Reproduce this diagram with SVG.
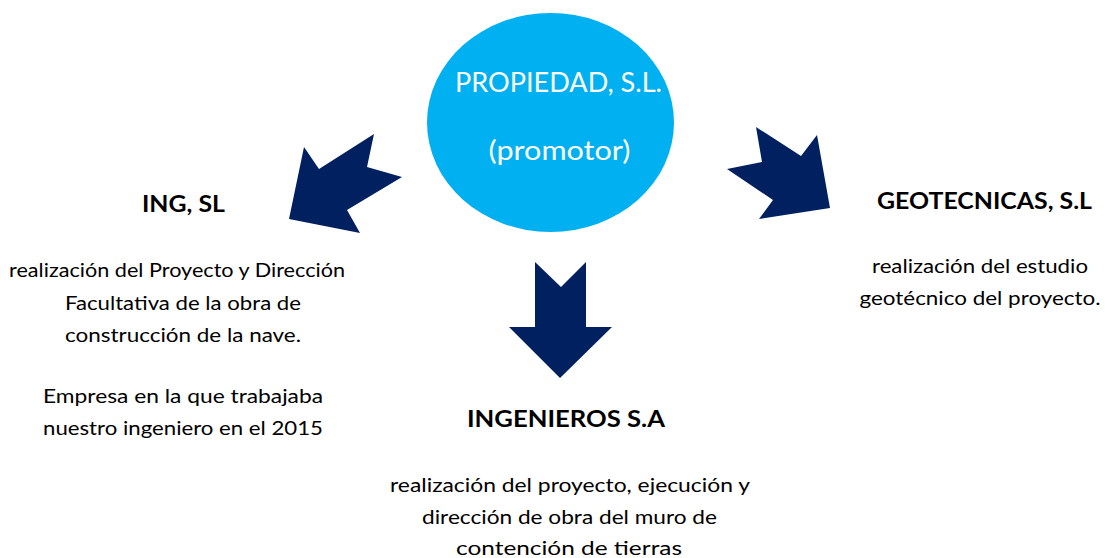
<svg xmlns="http://www.w3.org/2000/svg" width="1105" height="558" viewBox="0 0 1105 558">
<style>
.arrow{fill:#002060;stroke:none}
.h{font-family:Lato,"Open Sans","Liberation Sans",sans-serif;font-weight:bold;font-size:23px;fill:#000;text-anchor:middle}
.b{font-family:Lato,"Open Sans","Liberation Sans",sans-serif;font-size:18.5px;fill:#000;text-anchor:middle}
.w{font-family:Lato,"Open Sans","Liberation Sans",sans-serif;font-size:26px;fill:#fff;text-anchor:middle}
</style>
<rect width="1105" height="558" fill="#fff"/>
<g id="promotor">
<ellipse cx="550.5" cy="122.5" rx="123.5" ry="109.5" fill="#00B0F0"/>
<text class="w" x="558.5" y="92" textLength="207" lengthAdjust="spacingAndGlyphs">PROPIEDAD, S.L.</text>
<text class="w" x="559.5" y="160" textLength="142" lengthAdjust="spacingAndGlyphs">(promotor)</text>
</g>
<g id="connectors">
<polygon class="arrow" points="289,219 360,233 347,210 402,177 367,167 374,134 319,169 304,147"/>
<polygon class="arrow" points="727,169 762,162 756,127 801,156 817,135 830,208 759,219 773,200"/>
<polygon class="arrow" points="535,262 561,287 586,262 586,327 612,327 560,378 509,327 535,327"/>
</g>
<g id="ing">
<text class="h" x="183.5" y="212" textLength="83" lengthAdjust="spacingAndGlyphs">ING, SL</text>
<text class="b" x="177" y="277" textLength="336" lengthAdjust="spacingAndGlyphs">realización del Proyecto y Dirección</text>
<text class="b" x="183" y="310" textLength="236" lengthAdjust="spacingAndGlyphs">Facultativa de la obra de</text>
<text class="b" x="183" y="342" textLength="236" lengthAdjust="spacingAndGlyphs">construcción de la nave.</text>
<text class="b" x="183" y="403" textLength="280" lengthAdjust="spacingAndGlyphs">Empresa en la que trabajaba</text>
<text class="b" x="183" y="435" textLength="280" lengthAdjust="spacingAndGlyphs">nuestro ingeniero en el 2015</text>
</g>
<g id="ingenieros">
<text class="h" x="566" y="427" textLength="198" lengthAdjust="spacingAndGlyphs">INGENIEROS S.A</text>
<text class="b" x="570" y="492" textLength="360" lengthAdjust="spacingAndGlyphs">realización del proyecto, ejecución y</text>
<text class="b" x="569.5" y="524" textLength="295" lengthAdjust="spacingAndGlyphs">dirección de obra del muro de</text>
<text class="b" x="569" y="555" textLength="226" lengthAdjust="spacingAndGlyphs">contención de tierras</text>
</g>
<g id="geotecnicas">
<text class="h" x="984.5" y="209" textLength="215" lengthAdjust="spacingAndGlyphs">GEOTECNICAS, S.L</text>
<text class="b" x="980" y="273" textLength="216" lengthAdjust="spacingAndGlyphs">realización del estudio</text>
<text class="b" x="980" y="305" textLength="241" lengthAdjust="spacingAndGlyphs">geotécnico del proyecto.</text>
</g>
</svg>
